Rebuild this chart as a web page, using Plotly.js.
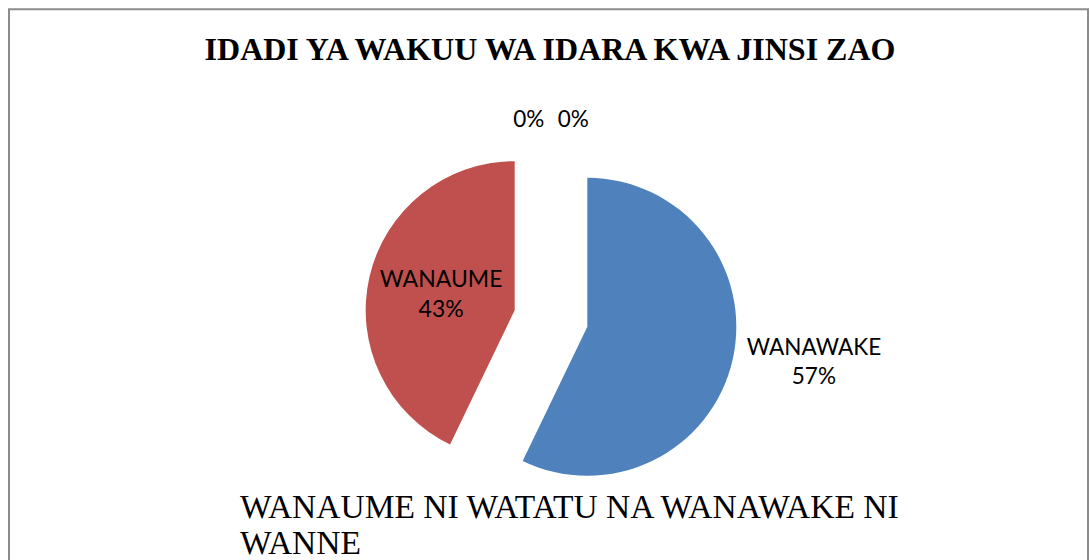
<!DOCTYPE html>
<html>
<head>
<meta charset="utf-8">
<script src="https://cdn.plot.ly/plotly-3.0.1.min.js"></script>
<style>html,body{margin:0;padding:0;background:#fff;}#chart{width:1090px;height:560px;}</style>
</head>
<body>
<div id="chart"></div>
<script>
// Data
const categories = ['-', 'WANAWAKE', 'WANAUME', '--'];
const counts = [0, 4, 3, 0];
const sliceColors = ['#7F7F7F', '#4F81BD', '#C0504D', '#9BBB59'];
const textTemplates = ['%{percent:.0%}', '%{label}<br>%{percent:.0%}', '%{label}<br>%{percent:.0%}', '%{percent:.0%}'];
const textPositions = ['outside', 'outside', 'inside', 'outside'];
const chartTitle = 'IDADI YA WAKUU WA IDARA KWA JINSI ZAO';
const noteLines = ['WANAUME NI WATATU NA WANAWAKE NI', 'WANNE'];

const W = 1090, H = 560;
const cx = 551, cy = 318.5, half = 186.25;

const trace = {
  type: 'pie',
  labels: categories,
  values: counts,
  sort: false,
  direction: 'clockwise',
  rotation: 0,
  pull: 0.25,
  marker: { colors: sliceColors, line: { width: 0 } },
  texttemplate: textTemplates,
  textposition: textPositions,
  textfont: { family: 'Lato, sans-serif', size: 22.5, color: '#000' },
  insidetextfont: { family: 'Lato, sans-serif', size: 23, color: '#000' },
  outsidetextfont: { family: 'Lato, sans-serif', size: 22.5, color: '#000' },
  insidetextorientation: 'horizontal',
  hoverinfo: 'skip',
  showlegend: false,
  domain: {
    x: [(cx - half) / W, (cx + half) / W],
    y: [(H - cy - half) / H, (H - cy + half) / H]
  }
};

const layout = {
  width: W,
  height: H,
  margin: { l: 0, r: 0, t: 0, b: 0 },
  paper_bgcolor: '#ffffff',
  showlegend: false,
  title: {
    text: '<b>' + chartTitle + '</b>',
    font: { family: '"Liberation Serif", "Times New Roman", serif', size: 32, color: '#000' },
    x: 550 / W,
    xanchor: 'center',
    y: 1 - 49 / H,
    yanchor: 'middle'
  },
  shapes: [{
    type: 'rect', xref: 'paper', yref: 'paper',
    x0: 9 / W, x1: 1088 / W, y0: -0.1, y1: 1 - 9.3 / H,
    line: { color: '#8C8C8C', width: 2 }, fillcolor: 'rgba(0,0,0,0)'
  }],
  annotations: noteLines.map((t, i) => ({
    text: t,
    xref: 'paper', yref: 'paper',
    x: 239 / W, xanchor: 'left',
    y: 1 - (506 + i * 36.6) / H, yanchor: 'middle',
    showarrow: false, align: 'left', borderpad: 0,
    font: { family: '"Liberation Serif", "Times New Roman", serif', size: 33.5, color: '#000' }
  }))
};

Plotly.newPlot('chart', [trace], layout, { displayModeBar: false, staticPlot: true });
</script>
</body>
</html>
